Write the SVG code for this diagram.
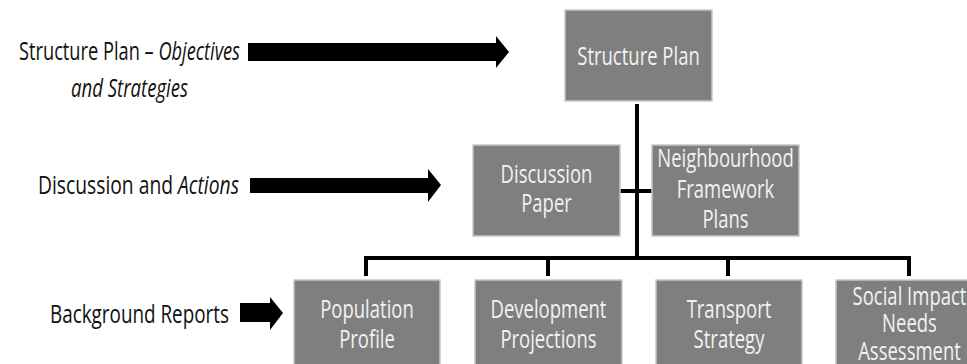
<svg xmlns="http://www.w3.org/2000/svg" width="967" height="364" viewBox="0 0 967 364">
<style>
.box{fill:#7f7f7f;stroke:#c8c8c8;stroke-width:1.5}
.bt{font-family:"Open Sans","Noto Sans",sans-serif;font-size:18.5px;fill:#f2f2f2;text-anchor:middle}
.lt{font-family:"Open Sans","Noto Sans",sans-serif;font-size:18.5px;fill:#111}
.it{font-style:italic}
.ln{stroke:#000;stroke-width:4;fill:none}
.ar{fill:#000}
</style>
<rect width="967" height="364" fill="#fff"/>
<g id="labels">
<text class="lt" transform="translate(19,60) scale(1,1.33)" textLength="221" lengthAdjust="spacingAndGlyphs">Structure Plan – <tspan class="it">Objectives</tspan></text>
<text class="lt it" transform="translate(71,97) scale(1,1.33)" textLength="117" lengthAdjust="spacingAndGlyphs">and Strategies</text>
<text class="lt" transform="translate(38,194) scale(1,1.33)" textLength="201" lengthAdjust="spacingAndGlyphs">Discussion and <tspan class="it">Actions</tspan></text>
<text class="lt" transform="translate(50,323) scale(1,1.33)" textLength="179" lengthAdjust="spacingAndGlyphs">Background Reports</text>
</g>
<g id="arrows">
<polygon class="ar" points="248,43 496,43 496,36 509,52 496,68 496,61 248,61"/>
<polygon class="ar" points="250,178 428,178 428,169 441,185 428,202 428,193 250,193"/>
<polygon class="ar" points="240,303 270,303 270,297 283,313 270,330 270,322 240,322"/>
</g>
<g id="connectors">
<line class="ln" x1="637" y1="104" x2="637" y2="258"/>
<line class="ln" x1="620" y1="191" x2="652" y2="191"/>
<polyline class="ln" points="366,276 366,258 909,258 909,276"/>
<line class="ln" x1="548" y1="258" x2="548" y2="276"/>
<line class="ln" x1="728" y1="258" x2="728" y2="276"/>
</g>
<g id="structure-plan">
<rect class="box" x="565" y="10" width="147" height="91"/>
<text class="bt" transform="translate(638.5,65) scale(1,1.33)">Structure Plan</text>
</g>
<g id="discussion-paper">
<rect class="box" x="473" y="145" width="147" height="91"/>
<text class="bt" transform="translate(546.5,183) scale(1,1.33)">Discussion</text>
<text class="bt" transform="translate(546.5,212) scale(1,1.33)">Paper</text>
</g>
<g id="neighbourhood">
<rect class="box" x="652" y="145" width="147" height="91"/>
<text class="bt" transform="translate(725.5,167) scale(1,1.33)">Neighbourhood</text>
<text class="bt" transform="translate(725.5,198) scale(1,1.33)">Framework</text>
<text class="bt" transform="translate(725.5,228) scale(1,1.33)">Plans</text>
</g>
<g id="population">
<rect class="box" x="294" y="280" width="146" height="100"/>
<text class="bt" transform="translate(367,318) scale(1,1.33)">Population</text>
<text class="bt" transform="translate(367,348) scale(1,1.33)">Profile</text>
</g>
<g id="development">
<rect class="box" x="475" y="280" width="147" height="100"/>
<text class="bt" transform="translate(548.5,318) scale(1,1.33)">Development</text>
<text class="bt" transform="translate(548.5,348) scale(1,1.33)">Projections</text>
</g>
<g id="transport">
<rect class="box" x="656" y="280" width="146" height="100"/>
<text class="bt" transform="translate(729,318) scale(1,1.33)">Transport</text>
<text class="bt" transform="translate(729,348) scale(1,1.33)">Strategy</text>
</g>
<g id="social">
<rect class="box" x="836" y="280" width="147" height="100"/>
<text class="bt" transform="translate(909.5,305) scale(1,1.33)">Social Impact</text>
<text class="bt" transform="translate(909.5,332) scale(1,1.33)">Needs</text>
<text class="bt" transform="translate(909.5,360) scale(1,1.33)">Assessment</text>
</g>
</svg>
